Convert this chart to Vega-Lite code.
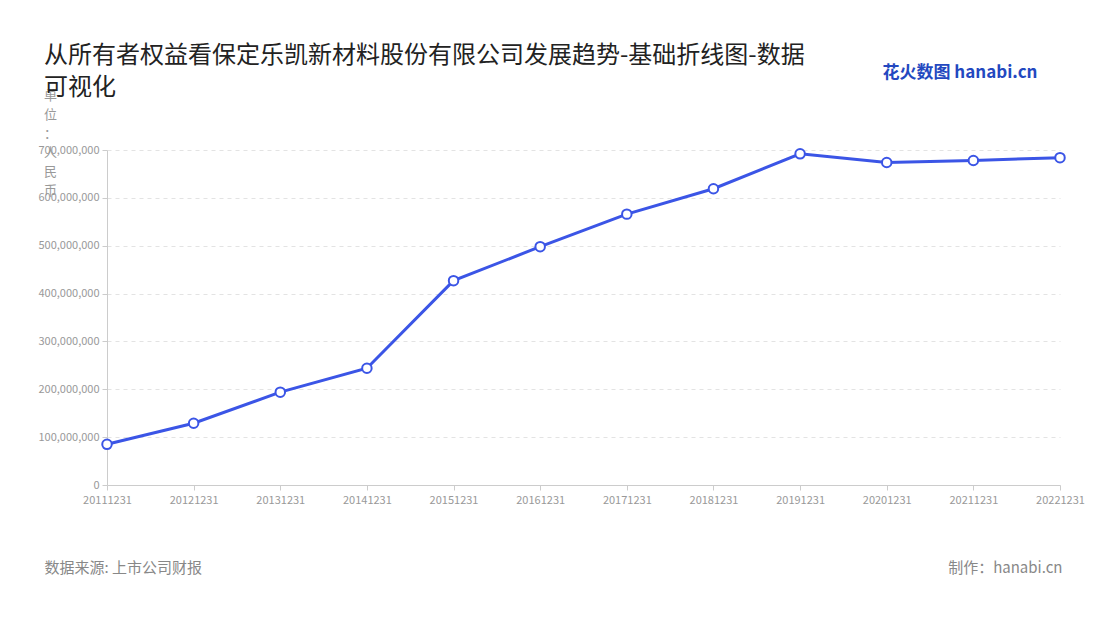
{
  "$schema": "https://vega.github.io/schema/vega-lite/v6.json",
  "autosize": {"type": "none"},
  "width": 953,
  "height": 335,
  "padding": {"left": 107, "top": 150, "right": 40, "bottom": 135},
  "background": "white",
  "title": {
    "text": ["从所有者权益看保定乐凯新材料股份有限公司发展趋势-基础折线图-数据", "可视化"],
    "anchor": "start",
    "frame": "group",
    "dx": -63,
    "offset": 52,
    "dy": 89,
    "font": "Noto Sans CJK SC",
    "fontSize": 24,
    "fontWeight": "normal",
    "color": "#222222",
    "lineHeight": 32
  },
  "data": {
    "values": [
      {"date": "20111231", "equity": 85000000},
      {"date": "20121231", "equity": 129000000},
      {"date": "20131231", "equity": 194000000},
      {"date": "20141231", "equity": 244000000},
      {"date": "20151231", "equity": 427000000},
      {"date": "20161231", "equity": 498000000},
      {"date": "20171231", "equity": 566000000},
      {"date": "20181231", "equity": 619000000},
      {"date": "20191231", "equity": 692000000},
      {"date": "20201231", "equity": 674000000},
      {"date": "20211231", "equity": 678000000},
      {"date": "20221231", "equity": 684000000}
    ]
  },
  "layer": [
    {
      "mark": {
        "type": "line",
        "color": "#3b55e6",
        "strokeWidth": 3,
        "point": {"filled": true, "fill": "white", "stroke": "#3b55e6", "strokeWidth": 2, "size": 90}
      },
      "encoding": {
        "x": {
          "field": "date",
          "type": "ordinal",
          "scale": {"type": "point", "padding": 0},
          "axis": {
            "labelAngle": 0,
            "labelColor": "#999999",
            "labelFontSize": 11,
            "labelFont": "Noto Sans CJK SC",
            "labelPadding": 4,
            "domainColor": "#cccccc",
            "tickColor": "#cccccc",
            "tickSize": 5,
            "grid": false,
            "title": "数据来源: 上市公司财报",
            "titleFont": "Noto Sans CJK SC",
            "titleFontSize": 15,
            "titleFontWeight": "normal",
            "titleColor": "#888888",
            "titleAnchor": null,
            "titleAlign": "left",
            "titleBaseline": "middle",
            "titleX": -63,
            "titleY": 82
          }
        },
        "y": {
          "field": "equity",
          "type": "quantitative",
          "scale": {"domain": [0, 700000000], "nice": false},
          "axis": {
            "values": [0, 100000000, 200000000, 300000000, 400000000, 500000000, 600000000, 700000000],
            "format": ",d",
            "labelColor": "#999999",
            "labelFontSize": 11,
            "labelFont": "Noto Sans CJK SC",
            "labelPadding": 3,
            "domainColor": "#cccccc",
            "tickColor": "#cccccc",
            "tickSize": 5,
            "gridColor": "#e3e3e3",
            "gridDash": [4, 4],
            "title": ["单", "位", "：", " ", "人", "民", "币"],
            "titleFont": "Noto Sans CJK SC",
            "titleFontSize": 13,
            "titleFontWeight": "normal",
            "titleColor": "#999999",
            "titleAngle": 0,
            "titleAnchor": null,
            "titleAlign": "center",
            "titleBaseline": "top",
            "titleLineHeight": 19,
            "titleX": -57,
            "titleY": -61
          }
        }
      }
    },
    {
      "mark": {"type": "line", "opacity": 0},
      "encoding": {
        "x": {
          "field": "date",
          "type": "ordinal",
          "scale": {"type": "point", "padding": 0},
          "axis": {
            "orient": "top",
            "labels": false,
            "ticks": false,
            "domain": false,
            "grid": false,
            "title": "花火数图 hanabi.cn",
            "titleFont": "Noto Sans CJK SC",
            "titleFontSize": 17,
            "titleFontWeight": "bold",
            "titleColor": "#2348c0",
            "titleAnchor": null,
            "titleAlign": "right",
            "titleBaseline": "middle",
            "titleX": 930,
            "titleY": -78
          }
        },
        "y": {
          "field": "equity",
          "type": "quantitative",
          "axis": {
            "orient": "right",
            "labels": false,
            "ticks": false,
            "domain": false,
            "grid": false,
            "title": "制作：hanabi.cn",
            "titleFont": "Noto Sans CJK SC",
            "titleFontSize": 15,
            "titleFontWeight": "normal",
            "titleColor": "#888888",
            "titleAngle": 0,
            "titleAnchor": null,
            "titleAlign": "right",
            "titleBaseline": "middle",
            "titleX": 2,
            "titleY": 417
          }
        }
      }
    }
  ],
  "resolve": {"scale": {"x": "independent", "y": "independent"}, "axis": {"x": "independent", "y": "independent"}},
  "config": {"view": {"stroke": null}}
}
